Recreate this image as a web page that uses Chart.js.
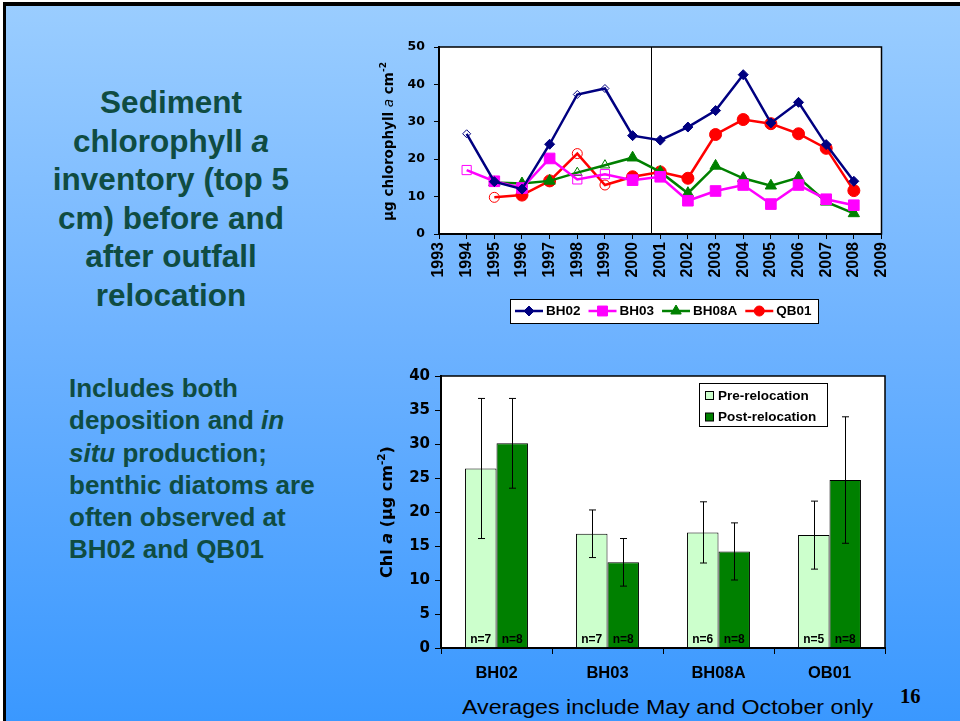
<!DOCTYPE html>
<html>
<head>
<meta charset="utf-8">
<script src="https://cdn.jsdelivr.net/npm/chart.js@4.4.1/dist/chart.umd.min.js"></script>
<style>
  html, body { margin: 0; padding: 0; width: 960px; height: 721px; overflow: hidden; background: #fff; }
  #slide {
    position: absolute; left: 3px; top: 2px; width: 957px; height: 719px;
    box-sizing: border-box; border-top: 4px solid #000; border-left: 3px solid #000;
    background: linear-gradient(to bottom, #9acdff 0%, #6fb3ff 45%, #3a98ff 100%);
  }
  .title {
    position: absolute; left: 21px; width: 300px; top: 83px; text-align: center;
    font: bold 31.5px/38.5px "Liberation Sans", Arial, sans-serif; color: #0f4c42;
  }
  .note {
    position: absolute; left: 69px; top: 372px; white-space: nowrap;
    font: bold 26px/32.3px "Liberation Sans", Arial, sans-serif; color: #0f4c42;
  }
  .foot {
    position: absolute; left: 462px; top: 697px; white-space: nowrap;
    font: 19.5px/20px "Liberation Sans", Arial, sans-serif; color: #000;
    transform: scaleX(1.19); transform-origin: 0 0;
  }
  .page {
    position: absolute; left: 900px; top: 686px;
    font: bold 20.5px/20px "Liberation Serif", "Times New Roman", serif; color: #000;
  }
  #topWrap { position: absolute; left: 370px; top: 35px; width: 520px; height: 300px; }
  #barWrap { position: absolute; left: 370px; top: 365px; width: 530px; height: 320px; }
</style>
</head>
<body>
<div id="slide"></div>
<div class="title">Sediment<br>chlorophyll <i>a</i><br>inventory (top 5<br>cm) before and<br>after outfall<br>relocation</div>
<div class="note">Includes both<br>deposition and <i>in</i><br><i>situ</i> production;<br>benthic diatoms are<br>often observed at<br>BH02 and QB01</div>
<div class="foot">Averages include May and October only</div>
<div class="page">16</div>
<div id="topWrap"><canvas id="lineChart" width="520" height="300"></canvas></div>
<div id="barWrap"><canvas id="barChart" width="530" height="320"></canvas></div>

<script>
// ---- time series (top panel) ----
const years = [1994, 1995, 1996, 1997, 1998, 1999, 2000, 2001, 2002, 2003, 2004, 2005, 2006, 2007, 2008];
const bh02  = [26.8, 14.0, 12.0, 24.0, 37.3, 38.9, 26.3, 25.1, 28.6, 33.0, 42.6, 29.7, 35.2, 23.9, 14.1];
const bh03  = [17.1, 14.1, 12.3, 20.2, 14.6, 16.0, 14.4, 15.3, 8.9, 11.5, 13.1, 8.0, 13.1, 9.3, 7.7];
const bh08a = [null, 13.8, 13.5, 14.2, 16.4, 18.4, 20.4, 16.6, 10.9, 18.2, 14.9, 12.9, 15.1, 8.6, 5.5];
const qb01  = [null, 9.8, 10.4, 14.2, 21.5, 13.1, 15.3, 16.6, 14.9, 26.6, 30.6, 29.5, 26.8, 22.9, 11.6];
// samples drawn with open markers
const openBH02 = [1994, 1998, 1999];
const openBH03 = [1994, 1998, 1999];
const openBH08A = [1998, 1999];
const openQB01 = [1995, 1998, 1999];
const relocationYear = 2000.68;
const yearMin = 1993, yearMax = 2009;

// ---- averages (bottom panel) ----
const sites = ['BH02', 'BH03', 'BH08A', 'QB01'];
const preMean  = [26.4, 16.8, 17.0, 16.6];
const preErr   = [10.3, 3.5, 4.5, 5.0];
const postMean = [30.1, 12.6, 14.2, 24.7];
const postErr  = [6.6, 3.5, 4.2, 9.3];
const preN  = [7, 7, 6, 5];
const postN = [8, 8, 8, 8];

const ARIAL = '"Liberation Sans", Arial, sans-serif';
const WIDE = '"DejaVu Sans", Verdana, sans-serif';

function drawMarker(ctx, style, x, y, r, fill, stroke, lw) {
    ctx.beginPath();
    if (style === 'rectRot') {
        ctx.moveTo(x - r, y); ctx.lineTo(x, y - r); ctx.lineTo(x + r, y); ctx.lineTo(x, y + r);
    } else if (style === 'rect') {
        const s = r * Math.SQRT1_2;
        ctx.rect(x - s, y - s, 2 * s, 2 * s);
    } else if (style === 'triangle') {
        ctx.moveTo(x, y - r);
        ctx.lineTo(x + r * 0.866, y + r * 0.5);
        ctx.lineTo(x - r * 0.866, y + r * 0.5);
    } else {
        ctx.arc(x, y, r, 0, Math.PI * 2);
    }
    ctx.closePath();
    if (fill) { ctx.fillStyle = fill; ctx.fill(); }
    ctx.lineWidth = lw; ctx.strokeStyle = stroke; ctx.stroke();
}

// rotated axis title made of runs with different fonts
function drawRotatedTitle(ctx, cx, cy, runs) {
    ctx.save();
    ctx.translate(cx, cy);
    ctx.rotate(-Math.PI / 2);
    ctx.textBaseline = 'middle';
    ctx.textAlign = 'left';
    ctx.fillStyle = '#000';
    let total = 0;
    runs.forEach(r => { ctx.font = r.font; r.w = ctx.measureText(r.text).width; total += r.w; });
    let x = -total / 2;
    runs.forEach(r => {
        ctx.font = r.font;
        ctx.fillText(r.text, x, r.rise || 0);
        x += r.w;
    });
    ctx.restore();
}

function makeSeries(label, values, color, style, radius, openList) {
    const isOpen = c => openList.includes(years[c.dataIndex]);
    return {
        label: label,
        data: years.map((yr, i) => ({ x: yr, y: values[i] })),
        borderColor: color,
        backgroundColor: color,
        borderWidth: 2.5,
        pointStyle: style,
        pointRadius: c => isOpen(c) ? radius - 1 : radius,
        pointHoverRadius: c => isOpen(c) ? radius - 1 : radius,
        pointBackgroundColor: c => isOpen(c) ? 'rgba(0,0,0,0)' : color,
        pointBorderColor: color,
        pointBorderWidth: 1,
        tension: 0
    };
}

const lineDatasets = [
    makeSeries('BH02', bh02, '#000080', 'rectRot', 5, openBH02),
    makeSeries('BH03', bh03, '#ff00ff', 'rect', 7.5, openBH03),
    makeSeries('BH08A', bh08a, '#008000', 'triangle', 6.5, openBH08A),
    makeSeries('QB01', qb01, '#ff0000', 'circle', 6, openQB01)
];

const topPanelPlugin = {
    id: 'topPanel',
    beforeDraw(chart) {
        const a = chart.chartArea, ctx = chart.ctx;
        ctx.save();
        ctx.fillStyle = '#fff';
        ctx.fillRect(a.left, a.top, a.right - a.left, a.bottom - a.top);
        ctx.restore();
    },
    beforeDatasetsDraw(chart) {
        // outfall relocation marker
        const a = chart.chartArea, ctx = chart.ctx;
        const x = Math.round(chart.scales.x.getPixelForValue(relocationYear)) + 0.5;
        ctx.save();
        ctx.strokeStyle = '#000'; ctx.lineWidth = 1;
        ctx.beginPath(); ctx.moveTo(x, a.top); ctx.lineTo(x, a.bottom); ctx.stroke();
        ctx.restore();
    },
    afterDraw(chart) {
        const a = chart.chartArea, ctx = chart.ctx;
        ctx.save();
        ctx.strokeStyle = '#000'; ctx.lineWidth = 1.5;
        ctx.strokeRect(a.left, a.top, a.right - a.left, a.bottom - a.top);
        ctx.restore();

        drawRotatedTitle(ctx, 19, (a.top + a.bottom) / 2 + 1, [
            { text: 'µg chlorophyll ', font: 'bold 13.5px ' + WIDE },
            { text: 'a', font: 'italic 13.5px ' + WIDE },
            { text: ' cm', font: 'bold 13.5px ' + WIDE },
            { text: '-2', font: 'bold 9px ' + WIDE, rise: -5 }
        ]);

        // legend box under the axis
        const bx = 140, by = 264, bw = 308, bh = 24;
        ctx.save();
        ctx.fillStyle = '#fff';
        ctx.fillRect(bx, by, bw, bh);
        ctx.strokeStyle = '#000'; ctx.lineWidth = 1;
        ctx.strokeRect(bx + 0.5, by + 0.5, bw, bh);
        ctx.font = 'bold 13.5px ' + ARIAL;
        ctx.textBaseline = 'alphabetic';
        let x = bx + 5;
        const ly = by + 12;
        chart.data.datasets.forEach(ds => {
            ctx.strokeStyle = ds.borderColor; ctx.lineWidth = 2.5;
            ctx.beginPath(); ctx.moveTo(x, ly); ctx.lineTo(x + 28, ly); ctx.stroke();
            const r = ds.pointStyle === 'rect' ? 7 : (ds.pointStyle === 'triangle' ? 6 : 5);
            drawMarker(ctx, ds.pointStyle, x + 14, ly, r, ds.borderColor, ds.borderColor, 1);
            x += 31;
            ctx.fillStyle = '#000';
            ctx.fillText(ds.label, x, by + 16);
            x += ctx.measureText(ds.label).width + 8;
        });
        ctx.restore();
    }
};

new Chart(document.getElementById('lineChart').getContext('2d'), {
    type: 'line',
    data: { datasets: lineDatasets },
    options: {
        responsive: false,
        animation: false,
        layout: { padding: { left: 0, right: 6, top: 12, bottom: 41 } },
        plugins: { legend: { display: false }, tooltip: { enabled: false } },
        scales: {
            x: {
                type: 'linear', min: yearMin, max: yearMax,
                ticks: {
                    stepSize: 1, autoSkip: false, maxRotation: 90, minRotation: 90, padding: 3,
                    color: '#000', font: { family: ARIAL, size: 16, weight: 'bold' },
                    callback: v => String(v)
                },
                grid: { drawOnChartArea: false, tickLength: 5, color: '#000' },
                border: { color: '#000', width: 2 },
                afterFit: s => { s.height = 60; s.paddingLeft = 0; s.paddingRight = 0; }
            },
            y: {
                min: 0, max: 50,
                ticks: { stepSize: 10, padding: 9, color: '#000', font: { family: WIDE, size: 12.5, weight: 'bold' } },
                grid: { drawOnChartArea: false, tickLength: 5, color: '#000' },
                border: { color: '#000', width: 2 },
                afterFit: s => { s.width = 69; s.paddingTop = 0; s.paddingBottom = 0; }
            }
        }
    },
    plugins: [topPanelPlugin]
});

// ---- bottom panel ----
const barPanelPlugin = {
    id: 'barPanel',
    beforeDraw(chart) {
        const a = chart.chartArea, ctx = chart.ctx;
        ctx.save();
        ctx.fillStyle = '#fff';
        ctx.fillRect(a.left, a.top, a.right - a.left, a.bottom - a.top);
        ctx.restore();
    },
    afterDatasetsDraw(chart) {
        const ctx = chart.ctx, ys = chart.scales.y;
        const errs = [preErr, postErr];
        const ns = [preN, postN];
        ctx.save();
        chart.data.datasets.forEach((ds, di) => {
            chart.getDatasetMeta(di).data.forEach((bar, i) => {
                const v = ds.data[i];
                const hi = ys.getPixelForValue(v + errs[di][i]);
                const lo = ys.getPixelForValue(v - errs[di][i]);
                const x = Math.round(bar.x) + 0.5;
                ctx.strokeStyle = '#000'; ctx.lineWidth = 1;
                ctx.beginPath();
                ctx.moveTo(x, hi); ctx.lineTo(x, lo);
                ctx.moveTo(x - 3.5, hi); ctx.lineTo(x + 3.5, hi);
                ctx.moveTo(x - 3.5, lo); ctx.lineTo(x + 3.5, lo);
                ctx.stroke();
                ctx.fillStyle = '#000';
                ctx.font = 'bold 12px ' + ARIAL;
                ctx.textAlign = 'center';
                ctx.textBaseline = 'alphabetic';
                ctx.fillText('n=' + ns[di][i], bar.x, bar.base - 5);
            });
        });
        ctx.restore();
    },
    afterDraw(chart) {
        const a = chart.chartArea, ctx = chart.ctx;
        ctx.save();
        ctx.strokeStyle = '#000'; ctx.lineWidth = 1.5;
        ctx.strokeRect(a.left, a.top, a.right - a.left, a.bottom - a.top);
        ctx.restore();

        drawRotatedTitle(ctx, 18, (a.top + a.bottom) / 2, [
            { text: 'Chl ', font: 'bold 16px ' + WIDE },
            { text: 'a', font: 'italic bold 16px ' + WIDE },
            { text: ' (µg cm', font: 'bold 16px ' + WIDE },
            { text: '-2', font: 'bold 10.5px ' + WIDE, rise: -6 },
            { text: ')', font: 'bold 16px ' + WIDE }
        ]);

        // legend inside the plot
        const bx = 329, by = 18, bw = 128, bh = 43;
        ctx.save();
        ctx.fillStyle = '#fff';
        ctx.fillRect(bx, by, bw, bh);
        ctx.strokeStyle = '#000'; ctx.lineWidth = 1;
        ctx.strokeRect(bx + 0.5, by + 0.5, bw, bh);
        ctx.font = 'bold 13.5px ' + ARIAL;
        ctx.textBaseline = 'alphabetic';
        chart.data.datasets.forEach((ds, i) => {
            const sy = by + 8 + i * 21.5;
            ctx.fillStyle = ds.backgroundColor;
            ctx.fillRect(bx + 6.5, sy + 0.5, 8, 8);
            ctx.strokeStyle = '#000';
            ctx.strokeRect(bx + 6.5, sy + 0.5, 8, 8);
            ctx.fillStyle = '#000';
            ctx.fillText(ds.label, bx + 19, sy + 8.5);
        });
        ctx.restore();
    }
};

new Chart(document.getElementById('barChart').getContext('2d'), {
    type: 'bar',
    data: {
        labels: sites,
        datasets: [
            { label: 'Pre-relocation', data: preMean, backgroundColor: '#ccffcc', borderColor: '#000', borderWidth: 1,
              categoryPercentage: 0.567, barPercentage: 1.0 },
            { label: 'Post-relocation', data: postMean, backgroundColor: '#008000', borderColor: '#000', borderWidth: 1,
              categoryPercentage: 0.567, barPercentage: 1.0 }
        ]
    },
    options: {
        responsive: false,
        animation: false,
        layout: { padding: { left: 0, right: 15, top: 11, bottom: 7 } },
        plugins: { legend: { display: false }, tooltip: { enabled: false } },
        scales: {
            x: {
                ticks: { padding: 10, color: '#000', font: { family: ARIAL, size: 16.5, weight: 'bold' } },
                grid: { offset: true, drawOnChartArea: false, tickLength: 6, color: '#000' },
                border: { color: '#000', width: 2 },
                afterFit: s => { s.height = 30; s.paddingLeft = 0; s.paddingRight = 0; }
            },
            y: {
                min: 0, max: 40,
                ticks: { stepSize: 5, padding: 5, color: '#000', font: { family: WIDE, size: 15, weight: 'bold' } },
                grid: { drawOnChartArea: false, tickLength: 6, color: '#000' },
                border: { color: '#000', width: 2 },
                afterFit: s => { s.width = 71; s.paddingTop = 0; s.paddingBottom = 0; }
            }
        }
    },
    plugins: [barPanelPlugin]
});
</script>
</body>
</html>
